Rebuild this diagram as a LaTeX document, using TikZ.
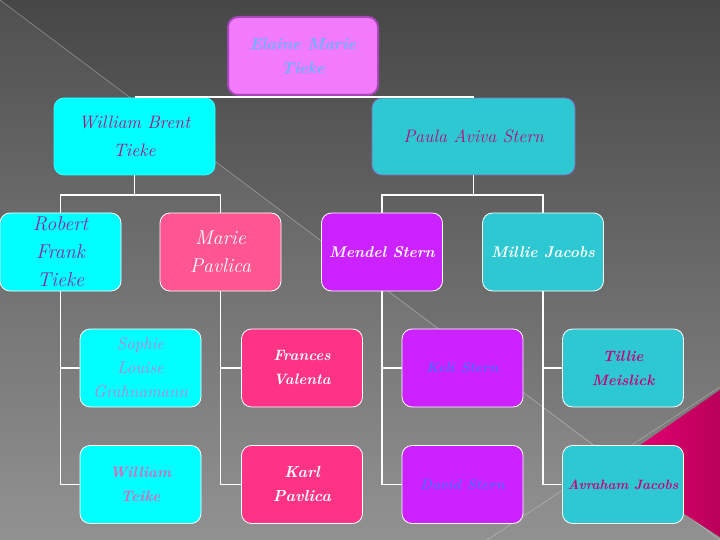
\documentclass[tikz,border=0pt]{standalone}
\usepackage{fontspec}
\usetikzlibrary{shadings}
\definecolor{bgtop}{HTML}{474747}
\definecolor{bgbot}{HTML}{8C8C8C}
\definecolor{topfill}{HTML}{F27BFC}
\definecolor{topdraw}{HTML}{A448B8}
\definecolor{toptext}{HTML}{66B3FF}
\definecolor{cyanfill}{HTML}{00FFFF}
\definecolor{tealfill}{HTML}{2EC8D2}
\definecolor{pinkfill}{HTML}{FF5590}
\definecolor{hotfill}{HTML}{FF3385}
\definecolor{purpfill}{HTML}{CC22FF}
\definecolor{magtext}{HTML}{B0107A}
\definecolor{robtext}{HTML}{8A2A9E}
\definecolor{soptext}{HTML}{C77AD0}
\definecolor{wttext}{HTML}{DD66BB}
\definecolor{bluetext}{HTML}{5566FF}
\definecolor{tealtext}{HTML}{C8007A}
\definecolor{trileft}{HTML}{F0007A}
\definecolor{triright}{HTML}{B80058}
\tikzset{
  pbox/.style={rounded corners=10pt, draw=white, line width=0.8pt, inner sep=0pt,
    minimum width=121pt, minimum height=78pt, align=center},
  conn/.style={draw=white, line width=1.6pt},
  fs/.style={font=\itshape\fontsize{#1}{28}\selectfont},
  fss/.style={font=\itshape\fontsize{#1}{24}\selectfont},
  fsb/.style={font=\bfseries\itshape\fontsize{#1}{24}\selectfont},
  fsbl/.style={font=\bfseries\itshape\fontsize{#1}{28}\selectfont}
}
\begin{document}
\begin{tikzpicture}[x=1pt,y=-1pt]
\useasboundingbox (0,0) rectangle (720,540);
\shade[top color=bgtop, bottom color=bgbot] (0,0) rectangle (720,540);
\fill[white, opacity=0.05] (0,0) -- (720,540) -- (0,540) -- cycle;
\draw[white, opacity=0.35, line width=0.6pt] (0,0) -- (720,540);
\draw[white, opacity=0.3, line width=0.6pt] (487,540) -- (720,387);
\shade[left color=trileft, right color=triright] (720,390) -- (610,466) -- (720,537) -- cycle;

% top
\node[pbox, fill=topfill, draw=topdraw, line width=2pt, minimum width=150pt, text=toptext, fsb=16] (n0) at (303,56) {Elaine Marie\\Tieke};
% row 2
\node[pbox, fill=cyanfill, draw=cyanfill!80!white, minimum width=161pt, minimum height=77pt, text=magtext, fs=18] (wb) at (134.5,136.5) {William Brent\\Tieke};
\node[pbox, fill=tealfill, draw=topdraw!70!tealfill, minimum width=203pt, minimum height=77pt, text=magtext, fs=18] (pa) at (473.5,136.5) {Paula Aviva Stern};
% row 3
\node[pbox, fill=cyanfill, text=robtext, fs=20] (rf) at (60.5,252) {Robert\\Frank\\Tieke};
\node[pbox, fill=pinkfill, text=white, fs=20] (mp) at (220.5,252) {Marie\\Pavlica};
\node[pbox, fill=purpfill, text=white, fsbl=15.5] (ms) at (382,252) {Mendel Stern};
\node[pbox, fill=tealfill, text=white, fsbl=15.5] (mj) at (543,252) {Millie Jacobs};
% row 4
\node[pbox, fill=cyanfill, text=soptext, fss=17] (sl) at (140.5,368) {Sophie\\Louise\\Grahnamann};
\node[pbox, fill=hotfill, text=white, fsb=15] (fv) at (302,368) {Frances\\Valenta};
\node[pbox, fill=purpfill, text=bluetext, fsb=14] (ks) at (462.5,368) {Keli Stern};
\node[pbox, fill=tealfill, text=tealtext, fsb=15] (tm) at (623,368) {Tillie\\Meislick};
% row 5
\node[pbox, fill=cyanfill, text=wttext, fsb=15] (wt) at (140.5,484.5) {William\\Teike};
\node[pbox, fill=hotfill, text=white, fsb=16] (kp) at (302,484.5) {Karl\\Pavlica};
\node[pbox, fill=purpfill, text=bluetext, fsb=14] (ds) at (462.5,484.5) {David Stern};
\node[pbox, fill=tealfill, text=tealtext, fsb=13.5] (aj) at (623,484.5) {Avraham Jacobs};

% connectors
\coordinate (tbus) at (303,97);
\draw[conn] (wb.north |- tbus) -- (pa.north |- tbus);
\coordinate (wbj) at (134.5,195);
\coordinate (paj) at (473.5,195);
\draw[conn] (wb.south) -- (wbj);
\draw[conn] (rf.north) -- (rf.north |- wbj) -- (mp.north |- wbj) -- (mp.north);
\draw[conn] (pa.south) -- (paj);
\draw[conn] (ms.north) -- (ms.north |- paj) -- (mj.north |- paj) -- (mj.north);
\draw[conn] (rf.south) -- (rf.south |- wt.west) -- (wt.west);
\draw[conn] (rf.south |- sl.west) -- (sl.west);
\draw[conn] (mp.south) -- (mp.south |- kp.west) -- (kp.west);
\draw[conn] (mp.south |- fv.west) -- (fv.west);
\draw[conn] (ms.south) -- (ms.south |- ds.west) -- (ds.west);
\draw[conn] (ms.south |- ks.west) -- (ks.west);
\draw[conn] (mj.south) -- (mj.south |- aj.west) -- (aj.west);
\draw[conn] (mj.south |- tm.west) -- (tm.west);
\end{tikzpicture}
\end{document}
